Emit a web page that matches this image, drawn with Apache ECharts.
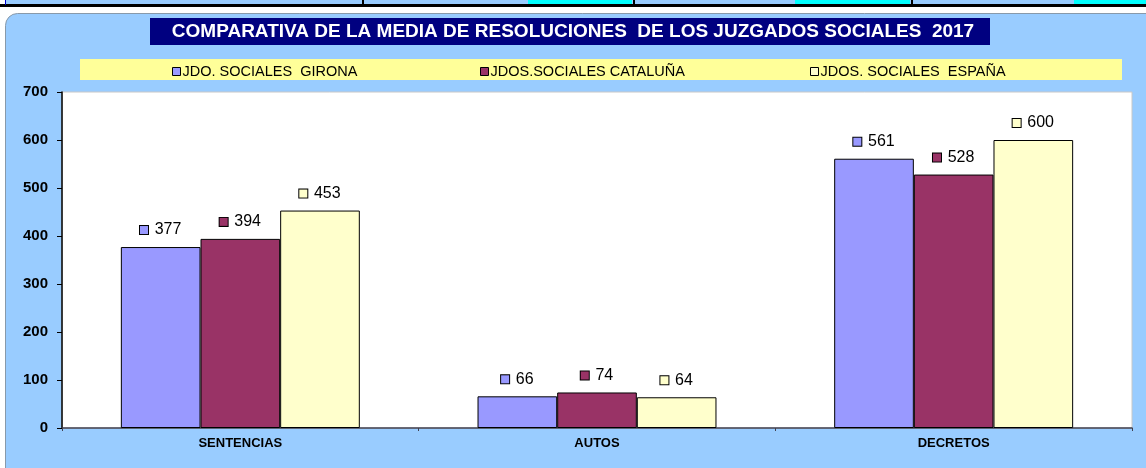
<!DOCTYPE html>
<html>
<head>
<meta charset="utf-8">
<script src="https://cdn.jsdelivr.net/npm/echarts@6/dist/echarts.min.js"></script>
<style>
  html, body { margin: 0; padding: 0; background: #fff; }
  #chart { width: 1146px; height: 468px; }
</style>
</head>
<body>
<div id="chart"></div>
<script>
const categories = ["SENTENCIAS", "AUTOS", "DECRETOS"];
const seriesNames = ["JDO. SOCIALES  GIRONA", "JDOS.SOCIALES CATALUÑA", "JDOS. SOCIALES  ESPAÑA"];
const girona = [377, 66, 561];
const cataluna = [394, 74, 528];
const espana = [453, 64, 600];
const yTicks = [0, 100, 200, 300, 400, 500, 600, 700];

const colors = ["#9999FF", "#993366", "#FFFFCC"];
const font = "Liberation Sans, Arial, sans-serif";

const chart = echarts.init(document.getElementById("chart"));

function makeSeries(name, data, color) {
  return {
    type: "bar",
    name: name,
    data: data,
    barGap: "0%",
    barCategoryGap: "33%",
    itemStyle: { color: color, borderColor: "#000", borderWidth: 1 },
    label: {
      show: true,
      position: "top",
      distance: 9,
      formatter: "{m|}  {v|{c}}",
      rich: {
        m: { width: 8, height: 8, backgroundColor: color, borderColor: "#000", borderWidth: 1 },
        v: { fontFamily: font, fontSize: 16, color: "#000" }
      }
    }
  };
}

function makeLegend(name, left) {
  return {
    data: [name],
    left: left,
    top: 64,
    icon: "rect",
    itemWidth: 8,
    itemHeight: 8,
    itemGap: 0,
    padding: 0,
    itemStyle: { borderColor: "#000", borderWidth: 1 },
    textStyle: { fontFamily: font, fontSize: 14.5, color: "#000", padding: [0, 0, 0, -3] }
  };
}

const option = {
  backgroundColor: "#fff",
  animation: false,
  title: {
    text: "COMPARATIVA DE LA MEDIA DE RESOLUCIONES  DE LOS JUZGADOS SOCIALES  2017",
    left: "center",
    top: 22,
    padding: 0,
    textStyle: { fontFamily: font, fontSize: 19, fontWeight: "bold", color: "#fff" }
  },
  legend: [
    makeLegend(seriesNames[0], 172),
    makeLegend(seriesNames[1], 480),
    makeLegend(seriesNames[2], 810)
  ],
  graphic: [
    // top strip of the sheet
    { type: "rect", z: -20, shape: { x: 5, y: 0, width: 1141, height: 5 }, style: { fill: "#99CCFF" } },
    { type: "rect", z: -19, shape: { x: 528, y: 0, width: 104, height: 5 }, style: { fill: "#00FFFF" } },
    { type: "rect", z: -19, shape: { x: 795, y: 0, width: 115, height: 5 }, style: { fill: "#00FFFF" } },
    { type: "rect", z: -19, shape: { x: 1074, y: 0, width: 72, height: 5 }, style: { fill: "#00FFFF" } },
    { type: "rect", z: -18, shape: { x: 0, y: 4, width: 1146, height: 3 }, style: { fill: "#000" } },
    { type: "rect", z: -18, shape: { x: 362, y: 0, width: 2, height: 5 }, style: { fill: "#000" } },
    { type: "rect", z: -18, shape: { x: 633, y: 0, width: 2, height: 5 }, style: { fill: "#000" } },
    { type: "rect", z: -18, shape: { x: 911, y: 0, width: 2, height: 5 }, style: { fill: "#000" } },
    { type: "rect", z: -18, shape: { x: 5, y: 0, width: 1, height: 5 }, style: { fill: "#0000CC" } },
    // chart panel
    { type: "rect", z: -15, shape: { x: 5.5, y: 13.5, width: 1150, height: 470, r: [12, 0, 0, 12] },
      style: { fill: "#99CCFF", stroke: "#8899AA", lineWidth: 1 } },
    // title box
    { type: "rect", z: -10, shape: { x: 150, y: 18, width: 840, height: 27 }, style: { fill: "#000080" } },
    // legend band
    { type: "rect", z: -10, shape: { x: 80, y: 59, width: 1042, height: 21 }, style: { fill: "#FFFF99" } }
  ],
  grid: {
    left: 62,
    right: 14,
    top: 92,
    bottom: 40,
    show: true,
    backgroundColor: "#fff",
    borderColor: "#C8C8C8",
    borderWidth: 1
  },
  xAxis: {
    type: "category",
    data: categories,
    axisLine: { lineStyle: { color: "#404050", width: 1.5 } },
    axisTick: { show: true, length: 3, lineStyle: { color: "#404050" } },
    axisLabel: { fontFamily: font, fontSize: 13, fontWeight: "bold", color: "#000", margin: 9 }
  },
  yAxis: {
    type: "value",
    min: yTicks[0],
    max: yTicks[yTicks.length - 1],
    interval: 100,
    splitLine: { show: false },
    axisLine: { show: true, lineStyle: { color: "#000", width: 1.5 } },
    axisTick: { show: true, length: 5, lineStyle: { color: "#000" } },
    axisLabel: { fontFamily: font, fontSize: 15, fontWeight: "bold", color: "#000", margin: 14 }
  },
  series: [
    makeSeries(seriesNames[0], girona, colors[0]),
    makeSeries(seriesNames[1], cataluna, colors[1]),
    makeSeries(seriesNames[2], espana, colors[2])
  ]
};

chart.setOption(option);
</script>
</body>
</html>
